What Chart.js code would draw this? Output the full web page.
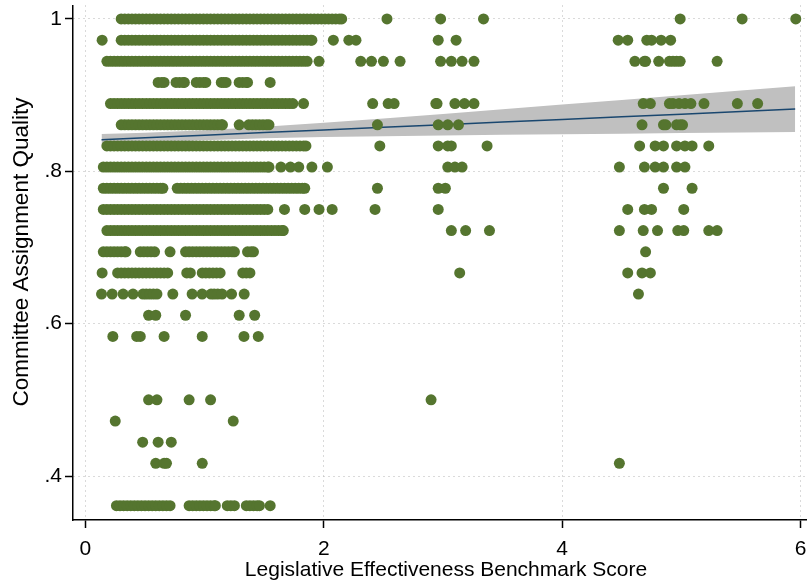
<!DOCTYPE html>
<html>
<head>
<meta charset="utf-8">
<script src="https://cdn.jsdelivr.net/npm/chart.js@4.4.1/dist/chart.umd.min.js"></script>
<style>
  html, body { margin: 0; padding: 0; background: #ffffff; }
  #wrap { width: 812px; height: 584px; }
</style>
</head>
<body>
<div id="wrap"><canvas id="chart" width="812" height="584"></canvas></div>
<script>
// Benchmark score of each member, grouped by committee assignment quality level
const q1000 = [0.30,0.33,0.36,0.39,0.42,0.45,0.48,0.51,0.54,0.57,0.60,0.63,0.66,0.69,0.72,0.75,0.78,0.81,0.84,0.87,0.90,0.93,0.96,0.99,1.02,1.05,1.08,1.11,1.14,1.17,1.20,1.23,1.26,1.29,1.32,1.35,1.38,1.41,1.44,1.47,1.50,1.53,1.56,1.59,1.62,1.65,1.68,1.71,1.74,1.77,1.80,1.83,1.86,1.89,1.92,1.95,1.98,2.01,2.04,2.07,2.10,2.13,2.15,2.53,2.98,3.34,4.99,5.51,5.96];
const q0972 = [0.14,0.30,0.33,0.36,0.39,0.42,0.45,0.48,0.51,0.54,0.57,0.60,0.63,0.66,0.69,0.72,0.75,0.78,0.81,0.84,0.87,0.90,0.93,0.96,0.99,1.02,1.05,1.08,1.11,1.14,1.17,1.20,1.23,1.26,1.29,1.32,1.35,1.38,1.41,1.44,1.47,1.50,1.53,1.56,1.59,1.62,1.65,1.68,1.71,1.74,1.77,1.80,1.83,1.86,1.89,1.90,2.08,2.21,2.27,2.96,3.11,4.47,4.55,4.71,4.75,4.83,4.91];
const q0944 = [0.18,0.21,0.24,0.27,0.30,0.33,0.36,0.39,0.42,0.45,0.48,0.51,0.54,0.57,0.60,0.63,0.66,0.69,0.72,0.75,0.78,0.81,0.84,0.87,0.90,0.93,0.96,0.99,1.02,1.05,1.08,1.11,1.14,1.17,1.20,1.23,1.26,1.29,1.32,1.35,1.38,1.41,1.44,1.47,1.50,1.53,1.56,1.59,1.62,1.65,1.68,1.71,1.74,1.77,1.80,1.83,1.86,1.96,2.31,2.40,2.50,2.64,2.98,3.07,3.16,3.26,4.61,4.69,4.70,4.81,4.90,4.93,4.96,4.99,5.30];
const q0917 = [0.61,0.64,0.66,0.76,0.79,0.82,0.83,0.93,0.96,0.99,1.01,1.14,1.16,1.18,1.29,1.32,1.35,1.36,1.55];
const q0889 = [0.21,0.24,0.27,0.30,0.33,0.36,0.39,0.42,0.45,0.48,0.51,0.54,0.57,0.60,0.63,0.66,0.69,0.72,0.75,0.78,0.81,0.84,0.87,0.90,0.93,0.96,0.99,1.02,1.05,1.08,1.11,1.14,1.17,1.20,1.23,1.26,1.29,1.32,1.35,1.38,1.41,1.44,1.47,1.50,1.53,1.56,1.59,1.62,1.65,1.68,1.71,1.74,1.83,2.41,2.54,2.59,2.94,2.95,3.10,3.18,3.26,4.68,4.74,4.90,4.93,4.98,5.03,5.08,5.19,5.47,5.64];
const q0861 = [0.30,0.33,0.36,0.39,0.42,0.45,0.48,0.51,0.54,0.57,0.60,0.63,0.66,0.69,0.72,0.75,0.78,0.81,0.84,0.87,0.90,0.93,0.96,0.99,1.02,1.05,1.08,1.11,1.14,1.15,1.29,1.37,1.40,1.43,1.46,1.49,1.52,1.54,2.45,2.96,3.04,3.13,4.67,4.85,4.87,4.96,4.99,5.01];
const q0833 = [0.18,0.21,0.24,0.27,0.30,0.33,0.36,0.39,0.42,0.45,0.48,0.51,0.54,0.57,0.60,0.63,0.66,0.69,0.72,0.75,0.78,0.81,0.84,0.87,0.90,0.93,0.96,0.99,1.02,1.05,1.08,1.11,1.14,1.17,1.20,1.23,1.26,1.29,1.32,1.35,1.38,1.41,1.44,1.47,1.50,1.53,1.56,1.59,1.62,1.65,1.68,1.71,1.74,1.77,1.80,1.83,1.85,2.47,2.96,3.04,3.07,3.37,4.65,4.78,4.85,4.96,5.03,5.09,5.23];
const q0806 = [0.15,0.18,0.21,0.24,0.27,0.30,0.33,0.36,0.39,0.42,0.45,0.48,0.51,0.54,0.57,0.60,0.63,0.66,0.69,0.72,0.75,0.78,0.81,0.84,0.87,0.90,0.93,0.96,0.99,1.02,1.05,1.08,1.11,1.14,1.17,1.20,1.23,1.26,1.29,1.32,1.35,1.38,1.41,1.44,1.47,1.50,1.53,1.54,1.64,1.72,1.79,1.90,2.03,3.04,3.10,3.16,4.48,4.69,4.78,4.85,4.96,5.03];
const q0778 = [0.15,0.18,0.21,0.24,0.27,0.30,0.33,0.36,0.39,0.42,0.45,0.48,0.51,0.54,0.57,0.60,0.63,0.65,0.77,0.80,0.83,0.86,0.89,0.92,0.95,0.98,1.01,1.04,1.07,1.10,1.13,1.16,1.19,1.22,1.25,1.28,1.31,1.34,1.37,1.40,1.43,1.46,1.49,1.52,1.55,1.58,1.61,1.64,1.67,1.70,1.73,1.76,1.79,1.82,1.84,2.45,2.96,3.02,4.85,5.09];
const q0750 = [0.15,0.18,0.21,0.24,0.27,0.30,0.33,0.36,0.39,0.42,0.45,0.48,0.51,0.54,0.57,0.60,0.63,0.66,0.69,0.72,0.75,0.78,0.81,0.84,0.87,0.90,0.93,0.96,0.99,1.02,1.05,1.08,1.11,1.14,1.17,1.20,1.23,1.26,1.29,1.32,1.35,1.38,1.41,1.44,1.47,1.50,1.53,1.67,1.84,1.96,2.07,2.43,2.96,4.55,4.69,4.75,5.02];
const q0722 = [0.18,0.21,0.24,0.27,0.30,0.33,0.36,0.39,0.42,0.45,0.48,0.51,0.54,0.57,0.60,0.63,0.66,0.69,0.72,0.75,0.78,0.81,0.84,0.87,0.90,0.93,0.96,0.99,1.02,1.05,1.08,1.11,1.14,1.17,1.20,1.23,1.26,1.29,1.32,1.35,1.38,1.41,1.44,1.47,1.50,1.53,1.56,1.59,1.62,1.65,1.66,3.07,3.19,3.39,4.48,4.68,4.80,4.97,5.02,5.23,5.30];
const q0694 = [0.15,0.18,0.21,0.24,0.27,0.30,0.33,0.34,0.46,0.49,0.52,0.55,0.58,0.71,0.84,0.87,0.90,0.93,0.96,0.99,1.02,1.05,1.08,1.11,1.14,1.17,1.20,1.23,1.25,1.36,1.39,1.41,4.70];
const q0667 = [0.14,0.27,0.30,0.33,0.36,0.39,0.42,0.45,0.48,0.51,0.54,0.57,0.60,0.63,0.66,0.69,0.85,0.88,0.98,1.01,1.04,1.07,1.10,1.13,1.32,1.35,1.38,3.14,4.55,4.67,4.74];
const q0639 = [0.135,0.224,0.316,0.399,0.483,0.51,0.54,0.57,0.600,0.733,0.895,0.979,1.054,1.08,1.11,1.146,1.226,1.332,4.64];
const q0611 = [0.53,0.59,0.84,1.29,1.42];
const q0583 = [0.23,0.43,0.46,0.66,0.98,1.33,1.45];
const q0500 = [0.53,0.60,0.87,1.05,2.90];
const q0472 = [0.25,1.24];
const q0444 = [0.48,0.61,0.72];
const q0417 = [0.59,0.66,0.68,0.98,4.48];
const q0361 = [0.26,0.29,0.32,0.35,0.38,0.41,0.44,0.47,0.50,0.53,0.56,0.59,0.62,0.65,0.68,0.71,0.87,0.90,0.93,0.96,0.99,1.02,1.05,1.08,1.09,1.19,1.22,1.25,1.35,1.38,1.41,1.44,1.46,1.55];

// Quality level of each group above, in the same order
const qualityLevels = [1, 0.9722, 0.9444, 0.9167, 0.8889, 0.8611, 0.8333, 0.8056, 0.7778, 0.75, 0.7222, 0.6944, 0.6667, 0.6389, 0.6111, 0.5833, 0.5, 0.4722, 0.4444, 0.4167, 0.3611];
const scoreGroups = [q1000, q0972, q0944, q0917, q0889, q0861, q0833, q0806, q0778, q0750, q0722, q0694, q0667, q0639, q0611, q0583, q0500, q0472, q0444, q0417, q0361];

// Linear fit with its 95% confidence band
const fitX    = [0.135, 0.5, 1, 1.5, 2, 2.5, 3, 3.5, 4, 4.5, 5, 5.5, 5.955];
const fitY    = [0.8415, 0.8440, 0.8475, 0.8509, 0.8544, 0.8578, 0.8613, 0.8647, 0.8682, 0.8716, 0.8751, 0.8785, 0.8817];
const ciUpper = [0.8490, 0.8507, 0.8541, 0.8585, 0.8638, 0.8695, 0.8754, 0.8814, 0.8876, 0.8937, 0.8999, 0.9061, 0.9118];
const ciLower = [0.8340, 0.8373, 0.8409, 0.8433, 0.8450, 0.8461, 0.8472, 0.8480, 0.8488, 0.8495, 0.8503, 0.8509, 0.8516];

// Axis ticks and titles
const xTicks = [0, 2, 4, 6];
const xTickLabels = ['0', '2', '4', '6'];
const yTicks = [0.4, 0.6, 0.8, 1];
const yTickLabels = ['.4', '.6', '.8', '1'];
const xTitle = 'Legislative Effectiveness Benchmark Score';
const yTitle = 'Committee Assignment Quality';

const points = [];
scoreGroups.forEach((xs, i) => xs.forEach(x => points.push({ x: x, y: qualityLevels[i] })));
const toXY = ys => fitX.map((x, i) => ({ x: x, y: ys[i] }));

const FONT = '"Liberation Sans", Arial, Helvetica, sans-serif';
Chart.defaults.font.family = FONT;
Chart.defaults.color = '#000000';

// Axis titles, placed like the graph's own title boxes
const axisTitles = {
  id: 'axisTitles',
  afterDraw(chart) {
    const ctx = chart.ctx;
    ctx.save();
    ctx.fillStyle = '#000000';
    ctx.textAlign = 'center';
    ctx.textBaseline = 'middle';
    ctx.font = '21px ' + FONT;
    ctx.fillText(xTitle, 446, 570);
    ctx.translate(22, 252);
    ctx.rotate(-Math.PI / 2);
    ctx.font = '22.5px ' + FONT;
    ctx.fillText(yTitle, 0, 0);
    ctx.restore();
  }
};

const gridOpts = {
  color: '#b4b4b4',
  lineWidth: 1,
  drawTicks: true,
  tickLength: 8,
  tickColor: '#000000',
  tickWidth: 1.5,
  tickBorderDash: []
};

new Chart(document.getElementById('chart'), {
  type: 'scatter',
  data: {
    datasets: [
      {
        label: yTitle,
        data: points,
        order: 0,
        pointRadius: 5.5,
        pointBorderWidth: 0,
        pointBackgroundColor: '#55752f',
        pointBorderColor: '#55752f'
      },
      {
        type: 'line',
        label: 'Fitted values',
        data: toXY(fitY),
        order: 1,
        borderColor: '#1a476f',
        borderWidth: 1.5,
        pointRadius: 0,
        tension: 0,
        fill: false
      },
      {
        type: 'line',
        label: '95% CI upper',
        data: toXY(ciUpper),
        order: 2,
        borderWidth: 0,
        borderColor: 'rgba(0,0,0,0)',
        backgroundColor: '#c0c0c0',
        pointRadius: 0,
        tension: 0,
        fill: '+1'
      },
      {
        type: 'line',
        label: '95% CI lower',
        data: toXY(ciLower),
        order: 3,
        borderWidth: 0,
        borderColor: 'rgba(0,0,0,0)',
        pointRadius: 0,
        tension: 0,
        fill: false
      }
    ]
  },
  options: {
    responsive: false,
    animation: false,
    devicePixelRatio: 1,
    events: [],
    layout: { padding: { top: 5, right: 2, left: 0, bottom: 0 } },
    plugins: {
      legend: { display: false },
      tooltip: { enabled: false }
    },
    scales: {
      x: {
        type: 'linear',
        min: -0.1044,
        max: 6.05,
        afterFit: s => { s.height = 64; s.paddingLeft = 0; s.paddingRight = 0; },
        afterBuildTicks: s => { s.ticks = xTicks.map(v => ({ value: v })); },
        ticks: {
          autoSkip: false,
          maxRotation: 0,
          padding: 9,
          font: { size: 21 },
          color: '#000000',
          callback: (v) => xTickLabels[xTicks.indexOf(v)]
        },
        grid: gridOpts,
        border: { display: true, color: '#000000', width: 1.5, dash: [1, 4] },
        title: { display: false }
      },
      y: {
        type: 'linear',
        min: 0.3423,
        max: 1.0177,
        afterFit: s => { s.width = 73; s.paddingTop = 0; s.paddingBottom = 0; },
        afterBuildTicks: s => { s.ticks = yTicks.map(v => ({ value: v })); },
        ticks: {
          autoSkip: false,
          padding: 3,
          font: { size: 21 },
          color: '#000000',
          callback: (v) => yTickLabels[yTicks.indexOf(v)]
        },
        grid: gridOpts,
        border: { display: true, color: '#000000', width: 1.5, dash: [1, 4] },
        title: { display: false }
      }
    }
  },
  plugins: [axisTitles]
});
</script>
</body>
</html>
